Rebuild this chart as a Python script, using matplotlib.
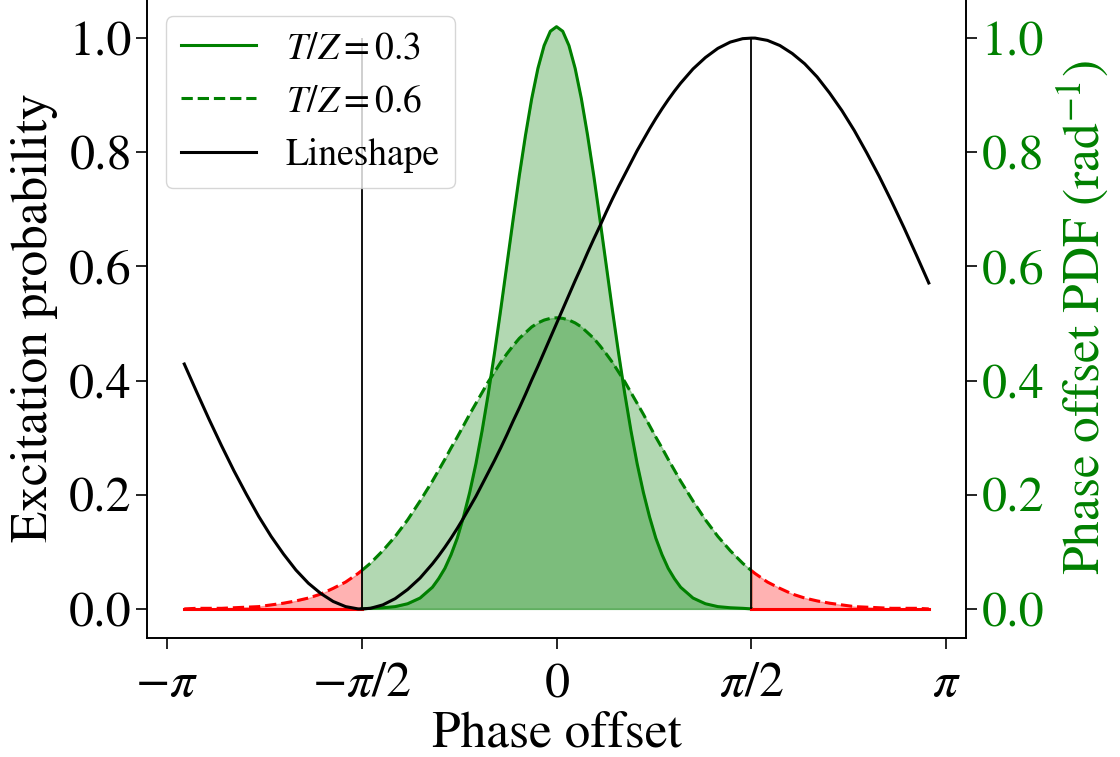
import numpy as np
import matplotlib
matplotlib.use("Agg")
import matplotlib.pyplot as plt

plt.rcParams['font.family'] = ['STIXGeneral', 'DejaVu Serif']
plt.rcParams['mathtext.fontset'] = 'stix'

# Phase offset sample points (rad)
phase = [-3.0, -2.9, -2.8, -2.7, -2.6, -2.5, -2.4, -2.3, -2.2, -2.1, -2.0,
         -1.9, -1.8, -1.7, -1.6, -1.5708, -1.5, -1.4, -1.3, -1.2, -1.1, -1.0,
         -0.95, -0.9, -0.85, -0.8, -0.75, -0.7, -0.65, -0.6, -0.55, -0.5,
         -0.45, -0.4, -0.35, -0.3, -0.25, -0.2, -0.15, -0.1, -0.05, 0.0,
         0.05, 0.1, 0.15, 0.2, 0.25, 0.3, 0.35, 0.4, 0.45, 0.5,
         0.55, 0.6, 0.65, 0.7, 0.75, 0.8, 0.85, 0.9, 0.95, 1.0,
         1.1, 1.2, 1.3, 1.4, 1.5, 1.5708, 1.6, 1.7, 1.8, 1.9, 2.0,
         2.1, 2.2, 2.3, 2.4, 2.5, 2.6, 2.7, 2.8, 2.9, 3.0]

# Excitation probability (lineshape)
lineshape = [0.429, 0.380, 0.332, 0.286, 0.242, 0.201, 0.162, 0.127, 0.096, 0.068, 0.045,
             0.027, 0.013, 0.004, 0.000, 0.000, 0.001, 0.007, 0.018, 0.034, 0.054, 0.079,
             0.093, 0.108, 0.124, 0.141, 0.159, 0.178, 0.197, 0.218, 0.239, 0.260,
             0.282, 0.305, 0.329, 0.352, 0.376, 0.401, 0.425, 0.450, 0.475, 0.500,
             0.525, 0.550, 0.575, 0.599, 0.624, 0.648, 0.671, 0.695, 0.718, 0.740,
             0.761, 0.782, 0.803, 0.822, 0.841, 0.859, 0.876, 0.892, 0.907, 0.921,
             0.946, 0.966, 0.982, 0.993, 0.999, 1.000, 1.000, 0.996, 0.987, 0.973, 0.955,
             0.932, 0.904, 0.873, 0.838, 0.799, 0.758, 0.714, 0.668, 0.620, 0.571]

# Phase offset PDF, T/Z = 0.3 (x >= 0 half; the curve is symmetric)
pdf_03_half = [1.020, 1.012, 0.987, 0.947, 0.894, 0.830, 0.759, 0.682, 0.603, 0.524, 0.448,
               0.377, 0.312, 0.254, 0.204, 0.161, 0.124, 0.095, 0.071, 0.053, 0.038,
               0.019, 0.009, 0.004, 0.002, 0.001, 0.000, 0.000, 0.000, 0.000, 0.000, 0.000,
               0.000, 0.000, 0.000, 0.000, 0.000, 0.000, 0.000, 0.000, 0.000, 0.000]
# Phase offset PDF, T/Z = 0.6 (x >= 0 half; the curve is symmetric)
pdf_06_half = [0.510, 0.509, 0.506, 0.501, 0.494, 0.484, 0.474, 0.461, 0.447, 0.432, 0.415,
               0.398, 0.379, 0.360, 0.341, 0.321, 0.301, 0.282, 0.262, 0.243, 0.224,
               0.189, 0.156, 0.127, 0.102, 0.080, 0.067, 0.062, 0.047, 0.036, 0.026, 0.019,
               0.014, 0.010, 0.007, 0.004, 0.003, 0.002, 0.001, 0.001, 0.001, 0.000]

pdf_03 = pdf_03_half[::-1][:-1] + pdf_03_half
pdf_06 = pdf_06_half[::-1][:-1] + pdf_06_half

x = np.array(phase)
ls = np.array(lineshape)
p3 = np.array(pdf_03)
p6 = np.array(pdf_06)
hp = np.pi / 2
inner = np.abs(x) <= 1.5708
left = x <= -1.5708
right = x >= 1.5708

fig = plt.figure(figsize=(11.2, 7.57), dpi=100)
ax = fig.add_axes([0.1313, 0.1572, 0.7312, 0.8460])
ax2 = ax.twinx()

green = 'green'
for p in (p3, p6):
    ax.fill_between(x, 0, p, where=inner, color=green, alpha=0.3)
    ax.fill_between(x, 0, p, where=left, color='red', alpha=0.3)
    ax.fill_between(x, 0, p, where=right, color='red', alpha=0.3)

l1, = ax.plot(x[inner], p3[inner], color=green, lw=2.2, label=r'$T/Z = 0.3$')
l2, = ax.plot(x[inner], p6[inner], color=green, lw=2.2, ls='--', label=r'$T/Z = 0.6$')
for m in (left, right):
    ax.plot(x[m], p3[m], color='red', lw=2.2)
    ax.plot(x[m], p6[m], color='red', lw=2.2, ls='--')

ax.vlines([-hp, hp], 0, 1, color='black', lw=1.3)
l3, = ax.plot(x, ls, color='black', lw=2.2, label='Lineshape')

ax.set_xticks([-np.pi, -hp, 0, hp, np.pi])
ax.set_xticklabels([r'$-\pi$', r'$-\pi/2$', r'$0$', r'$\pi/2$', r'$\pi$'])
ax.set_xlim(-3.3, 3.3)
ax.set_ylim(-0.051, 1.071)
ax2.set_ylim(-0.051, 1.071)
ax.set_yticks([0, 0.2, 0.4, 0.6, 0.8, 1.0])
ax2.set_yticks([0, 0.2, 0.4, 0.6, 0.8, 1.0])
ax.tick_params(axis='y', labelsize=36, length=8, width=1.2, pad=3)
ax.tick_params(axis='x', labelsize=36, length=8, width=1.2, pad=9)
ax2.tick_params(labelsize=36, length=8, width=1.2, pad=3, labelcolor=green)
for a in (ax, ax2):
    for s in a.spines.values():
        s.set_linewidth(1.2)

ax.set_xlabel('Phase offset', fontsize=37, labelpad=3)
ax.set_ylabel('Excitation probability', fontsize=37, labelpad=8)
ax2.set_ylabel(r'Phase offset PDF (rad$^{-1}$)', fontsize=37, color=green, labelpad=8)

ax.legend(handles=[l1, l2, l3], loc='upper left', fontsize=27)

fig.savefig('out.png', dpi=100)
